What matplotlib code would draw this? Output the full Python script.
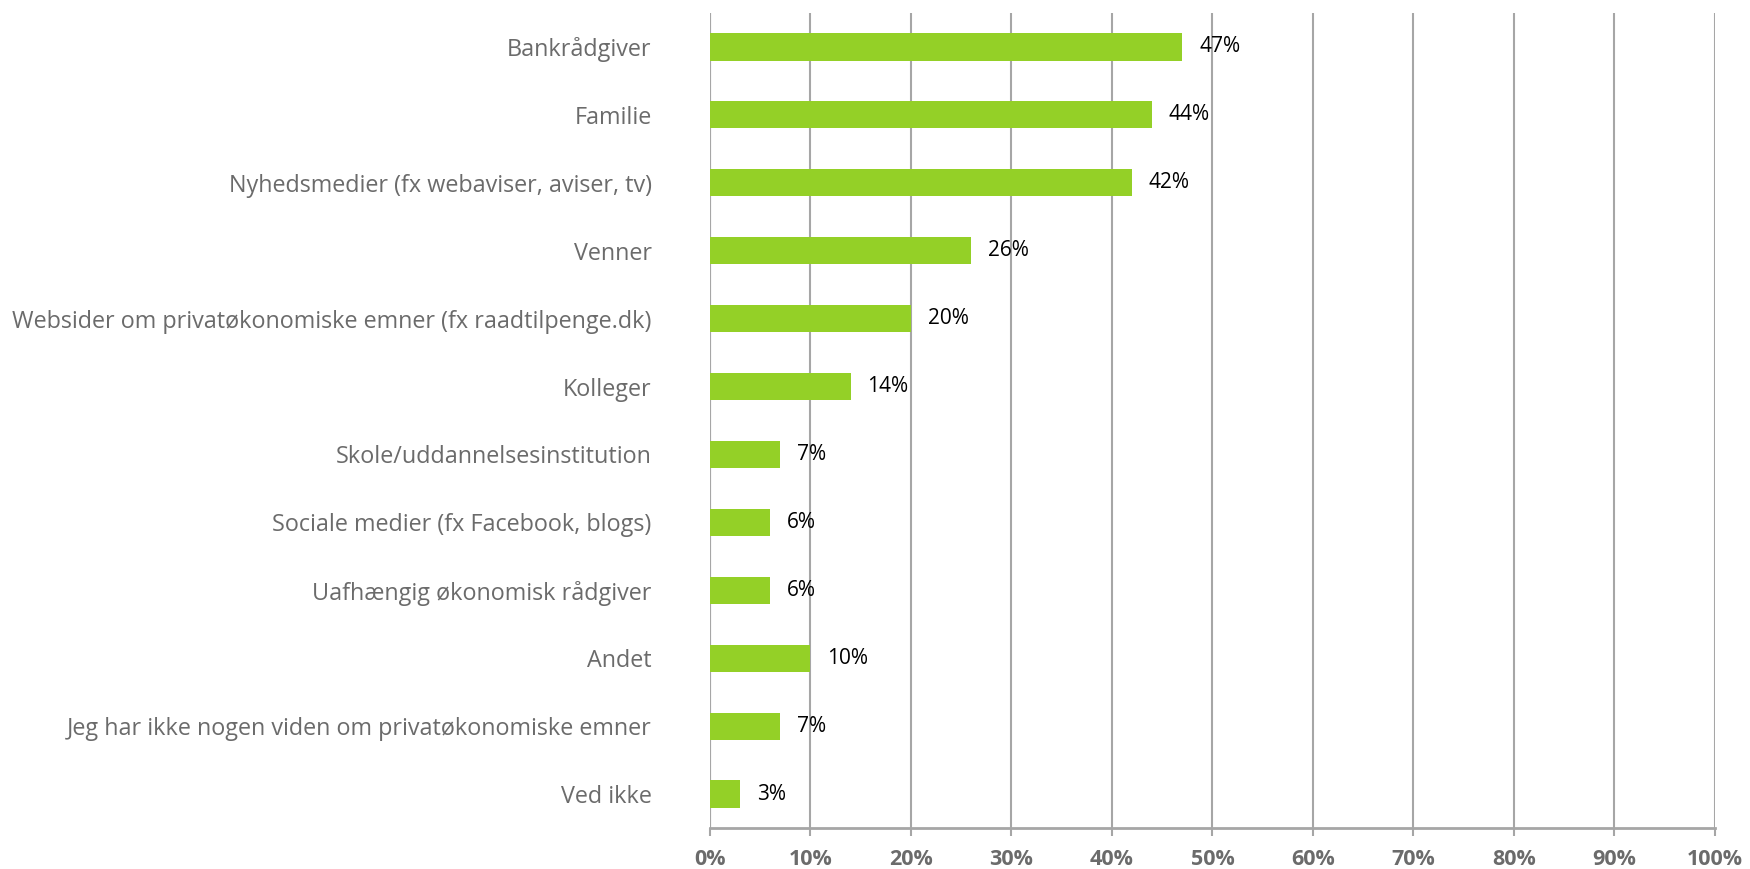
import matplotlib
matplotlib.use("Agg")
import matplotlib.pyplot as plt
from matplotlib.ticker import FuncFormatter

categories = [
    "Bankrådgiver",
    "Familie",
    "Nyhedsmedier (fx webaviser, aviser, tv)",
    "Venner",
    "Websider om privatøkonomiske emner (fx raadtilpenge.dk)",
    "Kolleger",
    "Skole/uddannelsesinstitution",
    "Sociale medier (fx Facebook, blogs)",
    "Uafhængig økonomisk rådgiver",
    "Andet",
    "Jeg har ikke nogen viden om privatøkonomiske emner",
    "Ved ikke",
]
values = [47, 44, 42, 26, 20, 14, 7, 6, 6, 10, 7, 3]
x_ticks = [0, 10, 20, 30, 40, 50, 60, 70, 80, 90, 100]

FONT = ["Open Sans", "DejaVu Sans"]
plt.rcParams["font.family"] = FONT

fig = plt.figure(figsize=(17.5, 8.69), dpi=100)
ax = fig.add_axes([0.4057, 0.0472, 0.98 - 0.4057, 0.985 - 0.0472])

ypos = list(range(len(categories)))
ax.barh(ypos, values, height=0.4, color="#94D027", zorder=3)
for y, v in zip(ypos, values):
    ax.annotate(f"{v}%", (v, y), xytext=(12, 0), textcoords="offset points",
                va="center", ha="left", fontsize=15, color="black", zorder=4)

ax.set_xlim(0, 100)
ax.set_ylim(len(categories) - 0.5, -0.5)
ax.set_xticks(x_ticks)
ax.xaxis.set_major_formatter(FuncFormatter(lambda v, p: f"{int(v)}%"))
ax.set_yticks(ypos)
ax.set_yticklabels(categories)

ax.grid(axis="x", color="#A6A6A6", linewidth=1.5, zorder=0)
for s in ["top", "right", "left"]:
    ax.spines[s].set_visible(False)
ax.spines["bottom"].set_color("#A6A6A6")
ax.spines["bottom"].set_linewidth(2)
ax.axvline(0, color="#A6A6A6", linewidth=1.5, zorder=2)

ax.tick_params(axis="y", length=0, pad=42, labelsize=16.8, labelcolor="#6B6B6B")
ax.tick_params(axis="x", length=6, width=1.5, color="#A6A6A6", pad=9,
               labelsize=15.5, labelcolor="#6B6B6B")
for lbl in ax.get_xticklabels():
    lbl.set_fontweight("bold")

fig.savefig("out.png", dpi=100)
